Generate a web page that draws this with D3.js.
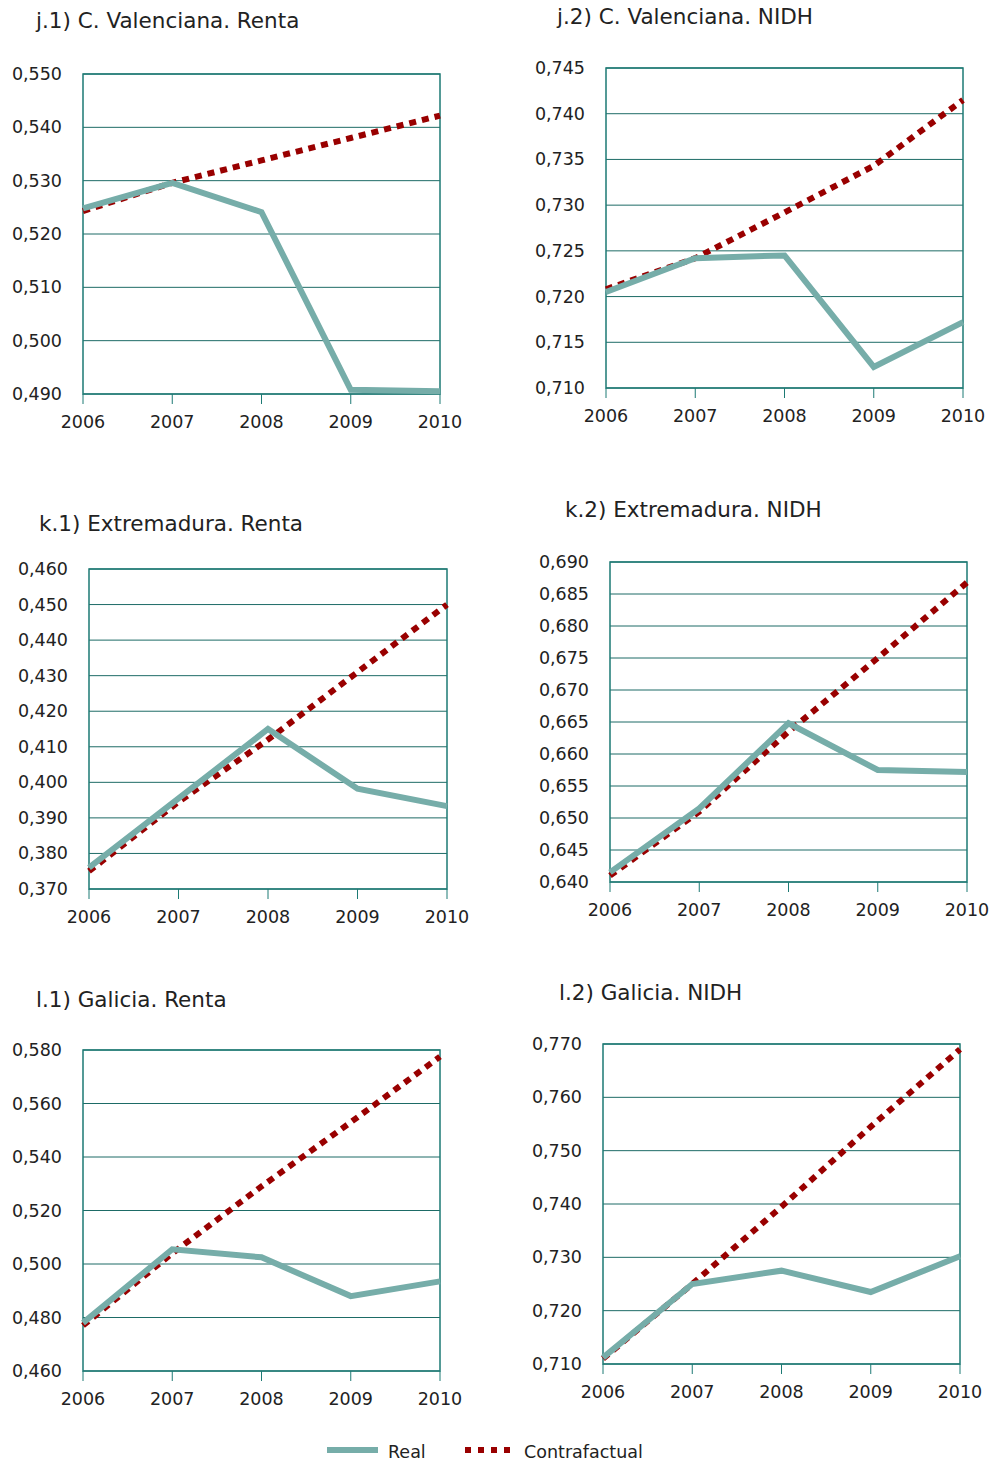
<!DOCTYPE html><html><head><meta charset="utf-8"><script src="https://cdn.jsdelivr.net/npm/d3@7"></script>
<style>body{margin:0;background:#fff}</style></head><body><svg id="c" width="992" height="1461"></svg>
<script>
const years=[2006,2007,2008,2009,2010];
const titles=["j.1) C. Valenciana. Renta","j.2) C. Valenciana. NIDH","k.1) Extremadura. Renta","k.2) Extremadura. NIDH","l.1) Galicia. Renta","l.2) Galicia. NIDH"];
const real=[[.5248,.5296,.5241,.4908,.4905],[.7205,.7242,.7245,.7123,.7172],[.3760,.3955,.4150,.3982,.3933],[.6415,.6515,.6648,.6575,.6572],[.4780,.5055,.5025,.4880,.4935],[.7112,.7250,.7275,.7235,.7302]];
const contra=[[.5243,.5296,.5338,.5380,.5422],[.7208,.7242,.7292,.7343,.7415],[.3750,.3945,.4120,.4310,.4500],[.6410,.6510,.6635,.6750,.6868],[.4770,.5040,.5290,.5530,.5775],[.7110,.7250,.7395,.7545,.7690]];
const yDomains=[[.49,.55],[.71,.745],[.37,.46],[.64,.69],[.46,.58],[.71,.77]];
const yTicks=[[.49,.50,.51,.52,.53,.54,.55],[.71,.715,.72,.725,.73,.735,.74,.745],[.37,.38,.39,.40,.41,.42,.43,.44,.45,.46],[.64,.645,.65,.655,.66,.665,.67,.675,.68,.685,.69],[.46,.48,.50,.52,.54,.56,.58],[.71,.72,.73,.74,.75,.76,.77]];
const boxes=[[83,440,74,394,36,20],[606,963,68,388,557,16],[89,447,569,889,39,523],[610,967,562,882,565,509],[83,440,1050,1371,36,999],[603,960,1044,1364,559,992]];
const svg=d3.select("#c"),F="DejaVu Sans, Verdana, sans-serif";
const fmt=d=>d3.format(".3f")(d).replace(".",",");
boxes.forEach((b,i)=>{
  const [x0,x1,y0,y1,tx,ty]=b;
  const x=d3.scaleLinear().domain([2006,2010]).range([x0,x1]);
  const y=d3.scaleLinear().domain(yDomains[i]).range([y1,y0]);
  const g=svg.append("g");
  g.append("text").attr("x",tx).attr("y",ty+8).attr("font-family",F).attr("font-size",21.5).attr("fill","#222").text(titles[i]);
  yTicks[i].forEach(t=>{
    g.append("line").attr("x1",x0).attr("x2",x1).attr("y1",y(t)).attr("y2",y(t)).attr("stroke","#1d6b66").attr("stroke-width",1);
    g.append("text").attr("x",x0-21).attr("y",y(t)+6).attr("text-anchor","end").attr("font-family",F).attr("font-size",17.5).attr("fill","#222").text(fmt(t));
  });
  g.append("rect").attr("x",x0).attr("y",y0).attr("width",x1-x0).attr("height",y1-y0).attr("fill","none").attr("stroke","#1d7a74").attr("stroke-width",1.5);
  years.forEach(t=>{
    g.append("line").attr("x1",x(t)).attr("x2",x(t)).attr("y1",y1).attr("y2",y1+10).attr("stroke","#1d7a74");
    g.append("text").attr("x",x(t)).attr("y",y1+34).attr("text-anchor","middle").attr("font-family",F).attr("font-size",17.5).attr("fill","#222").text(t);
  });
  const ln=d3.line().x((d,j)=>x(years[j])).y(d=>y(d));
  g.append("path").attr("d",ln(contra[i])).attr("fill","none").attr("stroke","#990000").attr("stroke-width",6).attr("stroke-dasharray","7,6");
  g.append("path").attr("d",ln(real[i])).attr("fill","none").attr("stroke","#76ada9").attr("stroke-width",6).attr("stroke-linejoin","miter");
});
const L=svg.append("g");
L.append("line").attr("x1",327).attr("x2",378).attr("y1",1450).attr("y2",1450).attr("stroke","#76ada9").attr("stroke-width",6);
L.append("text").attr("x",388).attr("y",1458).attr("font-family",F).attr("font-size",17.5).attr("fill","#222").text("Real");
L.append("line").attr("x1",465).attr("x2",512).attr("y1",1450).attr("y2",1450).attr("stroke","#990000").attr("stroke-width",6).attr("stroke-dasharray","6,7");
L.append("text").attr("x",524).attr("y",1458).attr("font-family",F).attr("font-size",17.5).attr("fill","#222").text("Contrafactual");
</script></body></html>
